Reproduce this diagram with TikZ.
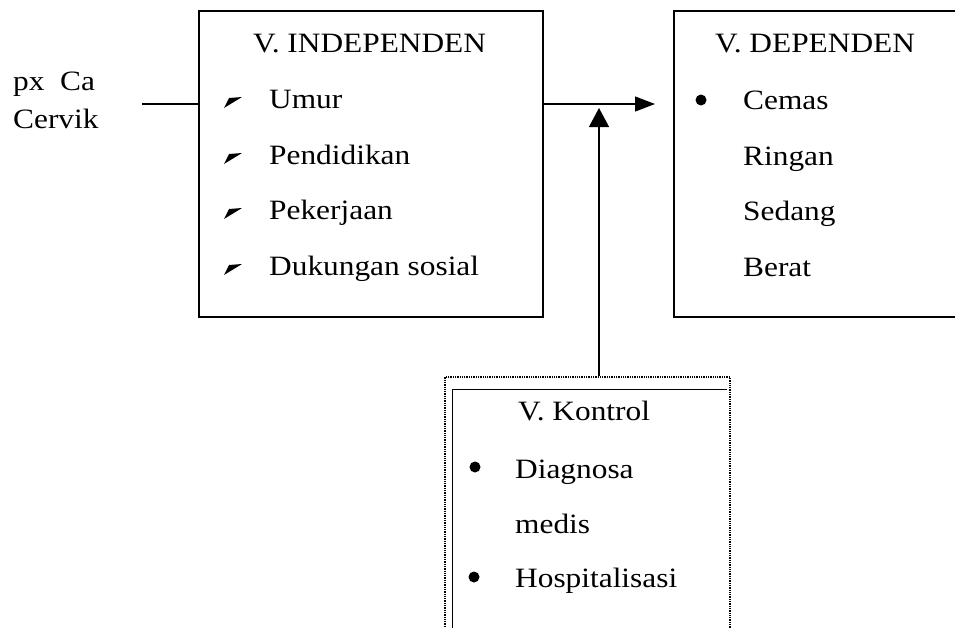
\documentclass[tikz,border=0pt]{standalone}
\usepackage{fontspec}
\setmainfont{Liberation Serif}[FakeStretch=1.12]
\usetikzlibrary{arrows.meta}
\tikzset{
  txt/.style={anchor=base west, inner sep=0pt, font=\fontsize{28}{34}\selectfont},
  frame/.style={draw, line width=1.2pt, inner sep=0pt},
  dotframe/.style={draw, line width=1.3pt, densely dotted, inner sep=0pt},
  conn/.style={line width=1.2pt},
  harr/.style={conn, -{Triangle[length=20pt,width=15pt]}},
  varr/.style={conn, -{Triangle[length=19pt,width=20pt]}},
  dot/.style={circle, fill=black, inner sep=0pt, minimum size=11pt},
  dart/.pic={\fill (0,0) -- (5,-10) -- (18,-11) -- cycle;}
}
\begin{document}
\begin{tikzpicture}[x=1pt,y=-1pt]
\useasboundingbox (0,0) rectangle (955,627);
\clip (0,0) rectangle (955,627);
% frames
\node[frame, minimum width=344pt, minimum height=306pt] (box1) at (371,164) {};
\node[frame, minimum width=301pt, minimum height=306pt] (box2) at (824.5,164) {};
\node[dotframe, minimum width=285pt, minimum height=283pt] (ctrl) at (587.5,518.5) {};
\draw[line width=0.8pt] (452,640) |- (727,389);
% left label
\node[txt] (px1) at (13,90) {px\ \ Ca};
\node[txt] (px2) at (13,128) {Cervik};
% box 1
\node[txt] (t1) at (253,52) {V. INDEPENDEN};
\node[txt] (i1) at (269,108) {Umur};
\node[txt] (i2) at (269,164) {Pendidikan};
\node[txt] (i3) at (269,219) {Pekerjaan};
\node[txt] (i4) at (269,275) {Dukungan sosial};
\pic at (224,108) {dart};
\pic at (224,164) {dart};
\pic at (224,219) {dart};
\pic at (224,275) {dart};
% box 2
\node[txt] (t2) at (715,52) {V. DEPENDEN};
\node[dot] (d1) at (701,100) {};
\node[txt] (j1) at (743,109) {Cemas};
\node[txt] (j2) at (743,165) {Ringan};
\node[txt] (j3) at (743,220) {Sedang};
\node[txt] (j4) at (743,276) {Berat};
% control box
\node[txt] (t3) at (518,420) {V. Kontrol};
\node[dot] (c1) at (475,467) {};
\node[txt] (k1) at (515,478) {Diagnosa};
\node[txt] (k2) at (515,533) {medis};
\node[dot] (c2) at (474,577) {};
\node[txt] (k3) at (515,587) {Hospitalisasi};
% connectors
\coordinate (pxend) at (142,104);
\coordinate (htip) at (655,104);
\coordinate (vtip) at (599,108);
\draw[conn] (pxend) -- (box1.west |- pxend);
\draw[harr] (box1.east |- htip) -- (htip);
\draw[varr] (ctrl.north -| vtip) -- (vtip);
\end{tikzpicture}
\end{document}
